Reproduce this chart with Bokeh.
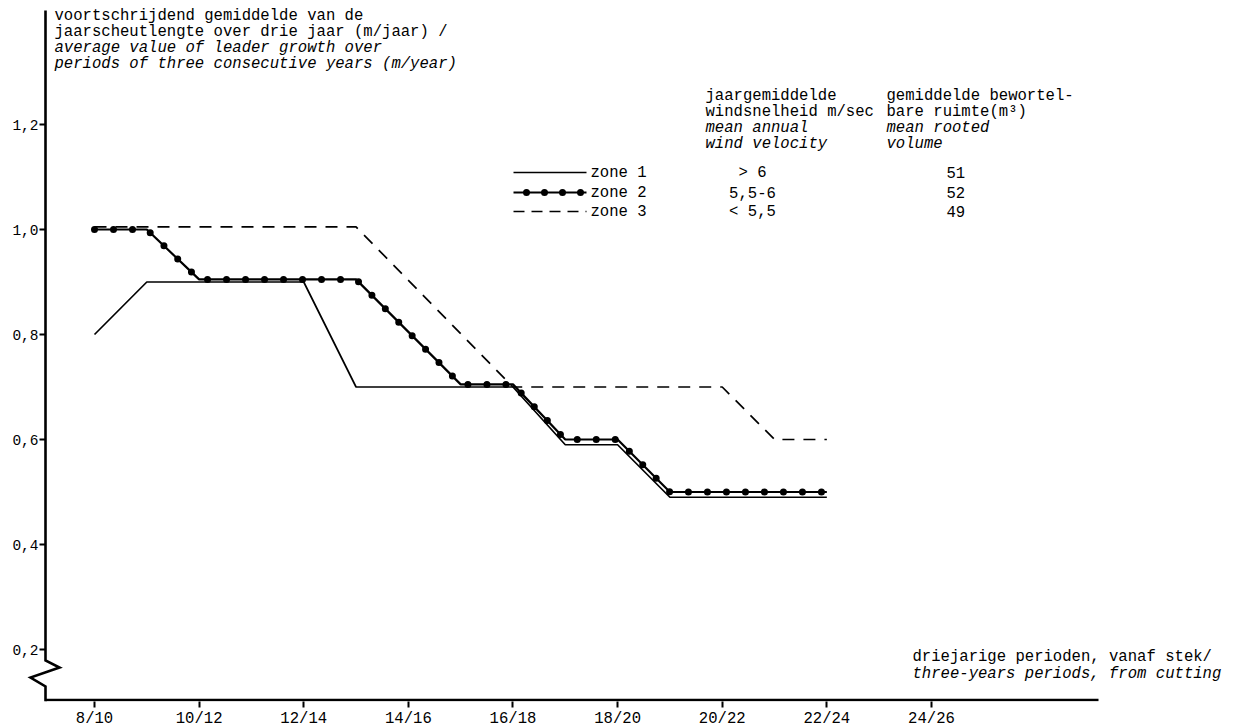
import math
from bokeh.plotting import figure
from bokeh.models import Range1d, FixedTicker
from bokeh.core.properties import value
from bokeh.embed import file_html
from bokeh.resources import INLINE

# ---------------- data ----------------
period_ticks = [8, 10, 12, 14, 16, 18, 20, 22, 24]          # start year of the 3-year period
period_labels = ["8/10", "10/12", "12/14", "14/16", "16/18", "18/20", "20/22", "22/24", "24/26"]

zone1_x = [8, 9, 12, 13, 16, 17, 18, 19, 22]
zone1_y = [0.80, 0.90, 0.90, 0.70, 0.70, 0.59, 0.59, 0.49, 0.49]
zone2_x = [8, 9, 10, 13, 15, 16, 17, 18, 19, 22]
zone2_y = [1.00, 1.00, 0.905, 0.905, 0.705, 0.705, 0.60, 0.60, 0.50, 0.50]
zone3_x = [8, 13, 16, 20, 21, 22]
zone3_y = [1.005, 1.005, 0.70, 0.70, 0.60, 0.60]

y_ticks = [0.2, 0.4, 0.6, 0.8, 1.0, 1.2]
y_tick_labels = ["0,2", "0,4", "0,6", "0,8", "1,0", "1,2"]

zone_names = ["zone 1", "zone 2", "zone 3"]
wind_velocity = ["> 6", "5,5-6", "< 5,5"]
rooted_volume = ["51", "52", "49"]

title_nl = ["voortschrijdend gemiddelde van de", "jaarscheutlengte over drie jaar (m/jaar) /"]
title_en = ["average value of leader growth over", "periods of three consecutive years (m/year)"]
wind_head_nl = ["jaargemiddelde", "windsnelheid m/sec"]
wind_head_en = ["mean annual", "wind velocity"]
vol_head_nl = ["gemiddelde bewortel-", "bare ruimte(m\u00b3)"]
vol_head_en = ["mean rooted", "volume"]
xlab_nl = "driejarige perioden, vanaf stek/"
xlab_en = "three-years periods, from cutting"

# ---------------- layout (page pixels -> data) ----------------
FRAME_W, FRAME_H = 1239, 701
PX_PER_YEAR = 52.31
X8_PAGE = 94.0
PX_PER_UNIT = 525.0
Y1_PAGE = 229.0


def dx(px):
    return 8 + (px - X8_PAGE) / PX_PER_YEAR


def dy(py):
    return 1.0 - (py - Y1_PAGE) / PX_PER_UNIT


FONT = value("Liberation Mono")
FS = "15.6px"

p = figure(frame_width=FRAME_W, frame_height=FRAME_H,
           x_range=Range1d(dx(0), dx(FRAME_W)),
           y_range=Range1d(dy(FRAME_H), dy(0)),
           output_backend="svg", toolbar_location=None,
           y_axis_location=None,
           min_border_left=0, min_border_right=0, min_border_top=0, min_border_bottom=0)
p.outline_line_color = None
p.xgrid.visible = False
p.ygrid.visible = False
p.background_fill_color = "white"
p.border_fill_color = "white"

ax = p.xaxis[0]
ax.ticker = FixedTicker(ticks=period_ticks)
ax.major_label_overrides = {t: l for t, l in zip(period_ticks, period_labels)}
ax.axis_line_color = None
ax.major_tick_in = 0
ax.major_tick_out = 6
ax.major_tick_line_width = 2
ax.major_tick_line_color = "black"
ax.minor_tick_line_color = None
ax.major_label_standoff = 2
ax.major_label_text_font = "Liberation Mono"
ax.major_label_text_font_size = FS
ax.major_label_text_color = "black"

# axes lines
axis_x = dx(45)
y_axis_xs = [axis_x, axis_x, dx(59), dx(30), axis_x, axis_x]
y_axis_ys = [dy(10), dy(660), dy(667), dy(677), dy(686), dy(701)]
p.line(y_axis_xs, y_axis_ys, line_width=2.6, color="black", line_join="miter")
p.line([axis_x, dx(1098)], [dy(699.5), dy(699.5)], line_width=2.6, color="black")

# y ticks & labels
p.ray(x=[axis_x] * len(y_ticks), y=y_ticks, length=6, length_units="screen",
      angle=math.pi, line_width=2, color="black")
p.text(x=[axis_x] * len(y_ticks), y=y_ticks, text=y_tick_labels, x_offset=-7,
       text_align="right", text_baseline="middle", text_font=FONT,
       text_font_size="14.5px", text_color="black")

# data lines
p.line(zone1_x, zone1_y, line_width=1.7, color="black")
p.line(zone3_x, zone3_y, line_width=1.7, color="black", line_dash="12 9")
p.line(zone2_x, zone2_y, line_width=2.2, color="black")
p.line(zone2_x, zone2_y, line_width=7, color="black", line_dash="0 19", line_cap="round")


def txt(x, ys, lines, italic=False, align="left", size=FS):
    p.text(x=[x] * len(lines), y=ys, text=lines, text_align=align,
           text_baseline="middle", text_font=FONT, text_font_size=size,
           text_font_style="italic" if italic else "normal", text_color="black")


# title
txt(dx(54), [dy(15), dy(31)], title_nl)
txt(dx(54), [dy(47), dy(63)], title_en, italic=True)

# legend table headers
txt(dx(705), [dy(95), dy(111)], wind_head_nl)
txt(dx(705), [dy(127), dy(143)], wind_head_en, italic=True)
txt(dx(886), [dy(95), dy(111)], vol_head_nl)
txt(dx(886), [dy(127), dy(143)], vol_head_en, italic=True)

# legend rows
row_y = [dy(172), dy(192), dy(211)]
lx0, lx1 = dx(513), dx(586)
p.line([lx0, lx1], [row_y[0]] * 2, line_width=1.7, color="black")
p.line([lx0, lx1], [row_y[1]] * 2, line_width=2.2, color="black")
p.line([lx0, lx1], [row_y[1]] * 2, line_width=7, color="black", line_dash="0 18",
       line_dash_offset=5, line_cap="round")
p.line([lx0, lx1], [row_y[2]] * 2, line_width=1.7, color="black", line_dash="11 7")
txt(dx(590), row_y, zone_names)
txt(dx(752), row_y, wind_velocity, align="center")
txt(dx(946), row_y, rooted_volume)

# x label (bottom right)
txt(dx(912), [dy(656)], [xlab_nl])
txt(dx(912), [dy(673)], [xlab_en], italic=True)

open("out.html", "w").write(file_html(p, INLINE))
